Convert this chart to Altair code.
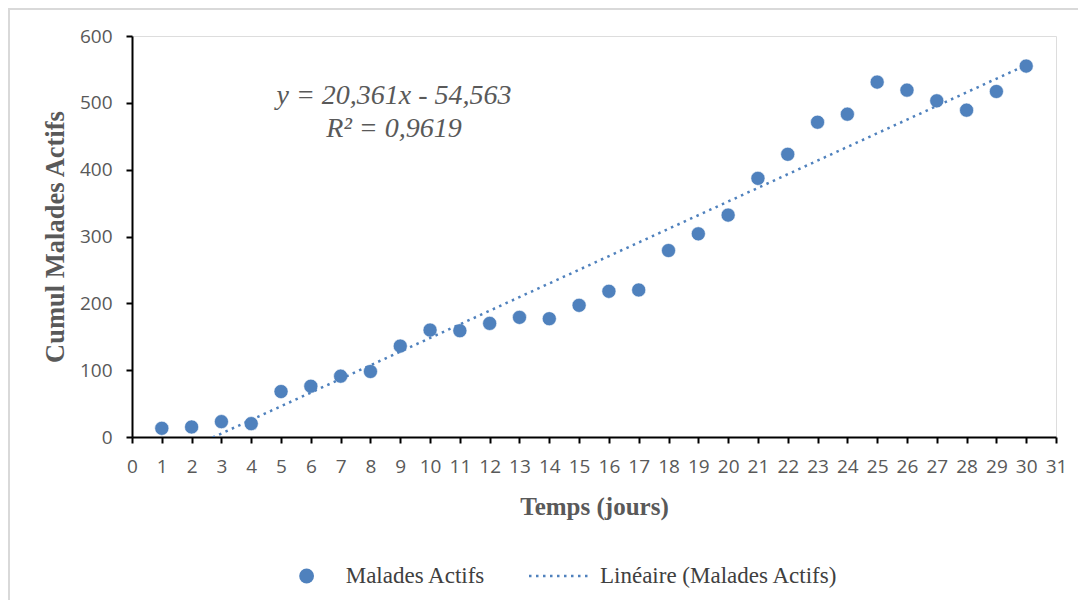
import altair as alt
import pandas as pd

# ---- data ----
DAYS = [1, 2, 3, 4, 5, 6, 7, 8, 9, 10, 11, 12, 13, 14, 15,
        16, 17, 18, 19, 20, 21, 22, 23, 24, 25, 26, 27, 28, 29, 30]
CUMUL = [13, 15, 23, 20, 68, 76, 91, 98, 136, 160, 159, 170, 179, 177, 197,
         218, 220, 279, 304, 332, 387, 423, 471, 483, 531, 519, 503, 489, 517, 555]
X_TICKS = [0, 1, 2, 3, 4, 5, 6, 7, 8, 9, 10, 11, 12, 13, 14, 15,
           16, 17, 18, 19, 20, 21, 22, 23, 24, 25, 26, 27, 28, 29, 30, 31]
Y_TICKS = [0, 100, 200, 300, 400, 500, 600]
EQUATION_LINES = ["y = 20,361x - 54,563", "R² = 0,9619"]
LEGEND_LABELS = ["Malades Actifs", "Linéaire (Malades Actifs)"]
X_TITLE = "Temps (jours)"
Y_TITLE = "Cumul Malades Actifs"

BLUE = "#4F81BD"
GRAY = "#595959"
DARK = "#404040"
SERIF = "Liberation Serif"
SANS = "Open Sans"

W, H = 924, 401
PAD = {"left": 124, "top": 28, "right": 22, "bottom": 163}

df = pd.DataFrame({"jour": DAYS, "malades": CUMUL})
one = pd.DataFrame({"k": [0]})

x_scale = alt.Scale(domain=[0, 31], nice=False, zero=False)
y_scale = alt.Scale(domain=[0, 600], nice=False)

common_axis = dict(
    grid=False, domainColor="black", domainWidth=2, tickColor="black",
    tickWidth=2, tickSize=6, labelFont=SANS, labelFontSize=19,
    labelColor=GRAY, labelPadding=14, labelOverlap=False, labelFlush=False,
    titleFont=SERIF, titleFontWeight="bold", titleColor=GRAY,
)
x_axis = alt.Axis(values=X_TICKS, tickCount=32, title=X_TITLE, labelAngle=0,
                  titlePadding=18, titleFontSize=25, **common_axis)
y_axis = alt.Axis(values=Y_TICKS, title=Y_TITLE, titlePadding=10,
                  titleFontSize=26.5, **common_axis)

base = alt.Chart(df)

points = base.mark_circle(size=200, color=BLUE, opacity=1, stroke="white", strokeWidth=0.6).encode(
    x=alt.X("jour:Q", scale=x_scale, axis=x_axis),
    y=alt.Y("malades:Q", scale=y_scale, axis=y_axis),
)

trend = base.transform_regression("jour", "malades", method="linear", extent=[1, 30]).mark_line(
    color=BLUE, strokeWidth=2.5, strokeDash=[2.5, 4.5], clip=True
).encode(
    x=alt.X("jour:Q", scale=x_scale, axis=x_axis),
    y=alt.Y("malades:Q", scale=y_scale, axis=y_axis),
)

equation = alt.Chart(one).mark_text(
    font=SERIF, fontSize=28, fontStyle="italic", color=GRAY, align="center",
    baseline="alphabetic", lineHeight=33
).encode(x=alt.value(262), y=alt.value(68), text=alt.value(EQUATION_LINES))

# legend (drawn by hand)
leg_dot = alt.Chart(one).mark_circle(size=220, color=BLUE, opacity=1).encode(
    x=alt.value(174.6), y=alt.value(540)
)
leg_txt1 = alt.Chart(one).mark_text(
    font=SERIF, fontSize=23, color=DARK, align="left", baseline="middle"
).encode(x=alt.value(213.7), y=alt.value(540), text=alt.value(LEGEND_LABELS[0]))
leg_line = alt.Chart(one).mark_rule(color=BLUE, strokeWidth=2.5, strokeDash=[2.5, 4.5]).encode(
    x=alt.value(397), x2=alt.value(457), y=alt.value(540)
)
leg_txt2 = alt.Chart(one).mark_text(
    font=SERIF, fontSize=23, color=DARK, align="left", baseline="middle"
).encode(x=alt.value(468), y=alt.value(540), text=alt.value(LEGEND_LABELS[1]))

# outer frame (top and left edges visible in the reference)
frame_top = alt.Chart(one).mark_rule(color="#d9d9d9", strokeWidth=2).encode(
    x=alt.value(-PAD["left"]), x2=alt.value(W + PAD["right"]), y=alt.value(-PAD["top"] + 1)
)
frame_left = alt.Chart(one).mark_rule(color="#d9d9d9", strokeWidth=2).encode(
    x=alt.value(-PAD["left"] + 1), y=alt.value(-PAD["top"]), y2=alt.value(H + PAD["bottom"])
)

chart = alt.layer(
    frame_top, frame_left, points, trend, equation, leg_dot, leg_txt1, leg_line, leg_txt2
).properties(
    width=W, height=H,
    autosize=alt.AutoSizeParams(type="none"),
    padding=PAD,
).configure_view(stroke=None).configure(background="white")

chart.save("out.html", embed_options={"renderer": "svg", "actions": False})
